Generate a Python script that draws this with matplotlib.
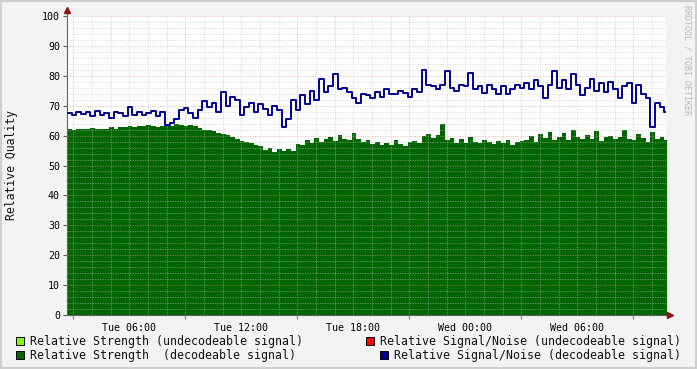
import numpy as np
import matplotlib
matplotlib.use("Agg")
import matplotlib.pyplot as plt
import matplotlib.dates as mdates
from matplotlib.patches import Rectangle
from datetime import datetime, timedelta

# =============================
# DATA (15 min samples, Tue 02:40 -> Wed 10:40)
# =============================
start_time = datetime(2024, 1, 2, 2, 40)
end_time = datetime(2024, 1, 3, 10, 45)
step_minutes = 15

strength_decodeable = [
    62.2, 62.0, 62.3, 62.1, 62.2, 62.4, 62.1, 62.3, 62.2, 62.9, 62.3,
    62.8, 63.0, 63.2, 62.9, 63.3, 63.1, 63.4, 63.2, 63.0, 63.3, 63.6, 63.2, 63.9, 63.4, 63.1, 63.5, 63.3,
    62.5, 62.0, 61.8, 61.4,
    61.0, 60.6, 60.1, 59.6,
    58.8, 58.2, 57.9, 57.4, 57.0,
    56.5, 55.2, 55.8, 54.6, 55.4, 54.8, 55.6, 55.0,
    57.2, 56.8, 58.4, 57.6, 59.2, 58.0, 58.8,
    59.5, 58.2, 60.3, 59.0, 58.5, 61.0, 58.8, 57.8, 58.4,
    57.2, 58.0, 56.8, 57.6, 57.0, 58.4, 57.2, 56.6, 57.8, 58.2, 57.4,
    59.8, 60.6, 59.2, 60.2,
    63.9,
    58.4, 59.2, 57.6, 58.8, 57.4, 59.6, 58.0, 57.6, 58.6, 57.8, 57.2, 58.2, 57.6, 58.4, 57.0, 57.8, 58.2,
    58.6, 59.8, 58.0, 60.4, 59.2, 61.2, 58.6, 59.6, 60.8, 58.4, 62.0, 59.6, 58.8, 60.2, 59.0,
    61.5, 58.2, 59.4, 60.0, 58.8, 59.6, 61.8, 59.0, 58.6, 60.4, 59.2, 58.0, 61.2, 58.8, 59.4, 58.6,
]

snr_decodeable = [
    67.5, 66.8, 68.0, 67.2, 67.8, 66.5, 68.3, 67.0, 67.5, 65.8, 68.0, 67.4,
    66.5, 69.5, 67.0, 68.0, 66.8, 67.5, 68.2, 66.5, 67.8,
    63.5, 64.2, 65.5,
    68.5, 69.3, 67.5, 66.0, 68.5,
    71.5, 69.5, 70.8, 68.0,
    74.5, 70.0, 73.0, 72.0, 67.0, 69.5,
    71.0, 68.0, 70.5, 69.0, 66.8, 70.0, 68.5,
    63.0, 65.5,
    72.0, 68.5, 73.5, 70.5, 74.8, 72.0, 79.0,
    74.5, 76.5, 80.5, 75.5, 76.0,
    74.5, 72.5, 71.0, 74.0, 73.5,
    72.5, 74.5, 73.0, 75.5, 74.0, 73.8, 75.0, 74.2, 73.0, 75.5, 74.5,
    82.0, 77.0, 76.5, 75.5, 77.0,
    81.5, 76.0, 75.0, 77.0, 76.5, 80.8,
    75.5, 76.5, 74.2, 77.0, 75.5, 74.0, 76.5, 73.8, 75.5, 77.0, 76.0,
    77.5, 75.5, 78.5, 76.5, 72.5, 76.8, 81.5, 76.0,
    78.5, 75.5, 80.5, 77.0, 73.5, 76.0, 79.0, 75.0, 77.5,
    74.5, 78.0, 75.5, 72.5, 76.5, 77.5, 71.0,
    77.0, 74.0, 72.5, 63.0, 71.0, 69.5, 68.0,
]

legend_labels = [
    "Relative Strength (undecodeable signal)",
    "Relative Strength  (decodeable signal)",
    "Relative Signal/Noise (undecodeable signal)",
    "Relative Signal/Noise (decodeable signal)",
]
legend_colors = ["#80FF00", "#006600", "#FF0000", "#000090"]

# =============================
# PLOT
# =============================
MONO = "DejaVu Sans Mono"
W, H = 697, 369
fig = plt.figure(figsize=(W / 100, H / 100), dpi=100, facecolor="#F3F3F3")

x0, x1, y0, y1 = 67, 666, 16, 315
ax = fig.add_axes([x0 / W, 1 - y1 / H, (x1 - x0) / W, (y1 - y0) / H])
ax.set_facecolor("white")

times = [start_time + timedelta(minutes=step_minutes * i) for i in range(len(strength_decodeable) + 1)]
t = mdates.date2num(times)
g = np.append(strength_decodeable, strength_decodeable[-1])
b = np.append(snr_decodeable, snr_decodeable[-1])

ax.fill_between(t, 0, g, step="post", color="#006600", lw=0, zorder=1)
ax.step(t, b, where="post", color="#000090", lw=1.4, zorder=4)

ax.set_xlim(mdates.date2num(start_time), mdates.date2num(end_time))
ax.set_ylim(0, 100)

# grid (drawn over the area, like rrdtool)
dot = (0, (1.5, 1.5))
for v in np.arange(2, 101, 2):
    if v % 10 == 0:
        ax.axhline(v, color="#E09090", lw=0.6, ls=dot, alpha=0.6, zorder=3)
    else:
        ax.axhline(v, color="#C0C0C0", lw=0.6, ls=dot, alpha=0.6, zorder=3)

hour = timedelta(hours=1)
h = datetime(2024, 1, 2, 3, 0)
while h <= end_time:
    col = "#E09090" if h.hour % 6 == 3 else "#C0C0C0"
    ax.axvline(mdates.date2num(h), color=col, lw=0.6, ls=dot, alpha=0.6, zorder=3)
    h += hour

# axes / ticks
for s in ["top", "right"]:
    ax.spines[s].set_visible(False)
ax.spines["left"].set_color("#606060")
ax.spines["bottom"].set_color("#606060")
ax.set_yticks(np.arange(0, 101, 10))
ax.tick_params(axis="y", length=3, width=0.8, color="#606060", labelsize=7.2, pad=2)
for lab in ax.get_yticklabels():
    lab.set_family(MONO)

ax.xaxis.set_major_locator(mdates.HourLocator(byhour=[0, 6, 12, 18]))
ax.xaxis.set_major_formatter(mdates.DateFormatter("%a %H:%M"))
ax.xaxis.set_minor_locator(mdates.HourLocator(byhour=[3, 9, 15, 21]))
ax.tick_params(axis="x", which="major", length=0, labelsize=7.2, pad=6)
ax.tick_params(axis="x", which="minor", length=3, width=0.8, color="#D06060")
for lab in ax.get_xticklabels():
    lab.set_family(MONO)

fig.text(12 / W, 1 - 165 / H, "Relative Quality", family=MONO, fontsize=8.3,
         rotation=90, ha="center", va="center", color="#111111")

# axis arrows
ax.plot([0], [1.02], marker="^", ms=4, color="#901010", transform=ax.transAxes, clip_on=False, zorder=6)
ax.plot([1.007], [0], marker=">", ms=4, color="#901010", transform=ax.transAxes, clip_on=False, zorder=6)
ax.plot([0, 0], [1.0, 1.02], color="#606060", lw=0.8, transform=ax.transAxes, clip_on=False)
ax.plot([1.0, 1.007], [0, 0], color="#606060", lw=0.8, transform=ax.transAxes, clip_on=False)

# legend
legend_pos = [(16, 341), (16, 355), (366, 341), (380, 355)]
for (lx, ly), lab, c in zip(legend_pos, legend_labels, legend_colors):
    fig.patches.append(Rectangle((lx / W, 1 - (ly + 4) / H), 8 / W, 8 / H,
                                 transform=fig.transFigure, facecolor=c, edgecolor="black", lw=0.7))
    fig.text((lx + 14) / W, 1 - ly / H, lab, family=MONO, fontsize=8.4, va="center", ha="left", color="#111111")

# watermark
fig.text(687 / W, 1 - 5 / H, "RRDTOOL / TOBI OETIKER", family=MONO, fontsize=6, rotation=-90,
         color="#B8B8B8", ha="center", va="top")

# frame
fig.patches.append(Rectangle((0, 0), 1, 1, transform=fig.transFigure, fill=False, edgecolor="#CFCFCF", lw=3))

fig.savefig("out.png", dpi=100, facecolor=fig.get_facecolor())
